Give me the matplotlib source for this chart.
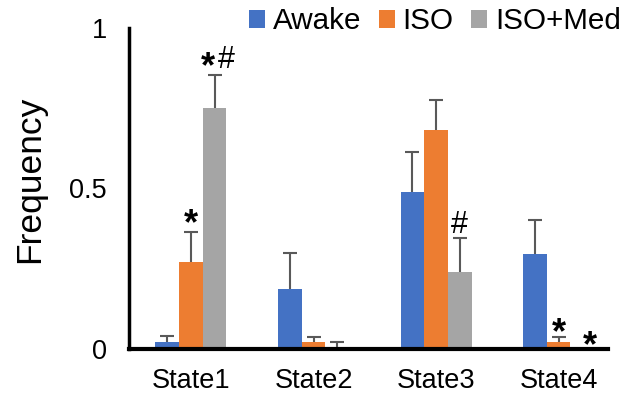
import matplotlib.pyplot as plt
import numpy as np

plt.rcParams['font.family'] = ['Liberation Sans', 'DejaVu Sans']

states = ['State1', 'State2', 'State3', 'State4']
series = ['Awake', 'ISO', 'ISO+Med']
colors = ['#4472C4', '#ED7D31', '#A5A5A5']

awake = [0.022, 0.185, 0.49, 0.297]
iso = [0.27, 0.022, 0.682, 0.021]
med = [0.75, 0.006, 0.238, 0.0]

awake_err = [0.018, 0.115, 0.123, 0.106]
iso_err = [0.095, 0.016, 0.094, 0.017]
med_err = [0.105, 0.014, 0.106, 0.0]

# significance marks: (state index, series index, symbol, x shift px, gap px above error bar)
marks = [(0, 1, '*', 0, 19), (0, 2, '*', -7, 18), (0, 2, '#', 12, 18),
         (2, 2, '#', 0, 16), (3, 1, '*', 0, 14), (3, 2, '*', 8, 14)]

values = [awake, iso, med]
errors = [awake_err, iso_err, med_err]

fig = plt.figure(figsize=(6.35, 4.07), dpi=100)
ax = fig.add_axes([0.203, 0.143, 0.754, 0.788])

x = np.arange(len(states))
w = 0.193
for i in range(3):
    pos = x + (i - 1) * w
    err = np.array(errors[i])
    ax.bar(pos, values[i], w, color=colors[i], label=series[i], zorder=2)
    keep = err > 0
    _, caps, _ = ax.errorbar(pos[keep], np.array(values[i])[keep],
                             yerr=[np.zeros(keep.sum()), err[keep]],
                             fmt='none', ecolor='#595959', elinewidth=1.5,
                             capsize=5, capthick=1.5, zorder=3)
    caps[0].set_visible(False)  # no lower cap

px = 72 / 100  # points per pixel
for s, k, sym, dx, gap in marks:
    top = values[k][s] + errors[k][s]
    if sym == '*':
        fs, c, fw = 26, 0.58, 'bold'
    else:
        fs, c, fw = 22, 0.36, 'normal'
    dy = gap * px - c * fs
    ax.annotate(sym, (x[s] + (k - 1) * w, top), xytext=(dx * px, dy),
                textcoords='offset points', ha='center', va='baseline',
                fontsize=fs, fontweight=fw)

ax.set_xlim(-0.506, 3.40)
ax.set_ylim(0, 1)
ax.set_yticks([0, 0.5, 1])
ax.set_yticklabels(['0', '0.5', '1'])
ax.set_xticks(x)
ax.set_xticklabels(states)
ax.tick_params(axis='both', length=0, labelsize=19.5)
ax.tick_params(axis='y', pad=16)
ax.tick_params(axis='x', pad=14)
ax.set_ylabel('Frequency', fontsize=25.5)
ax.yaxis.set_label_coords(-0.172, 0.528)

for sp in ['top', 'right']:
    ax.spines[sp].set_visible(False)
ax.spines['left'].set_linewidth(2.5)
ax.spines['bottom'].set_linewidth(3)

fig.legend(loc='upper left', bbox_to_anchor=(0.350, 1.047), ncol=3, frameon=False,
           fontsize=21.3, handlelength=0.55, handleheight=0.55,
           handletextpad=0.25, columnspacing=0.6)

fig.savefig('out.png', dpi=100)
